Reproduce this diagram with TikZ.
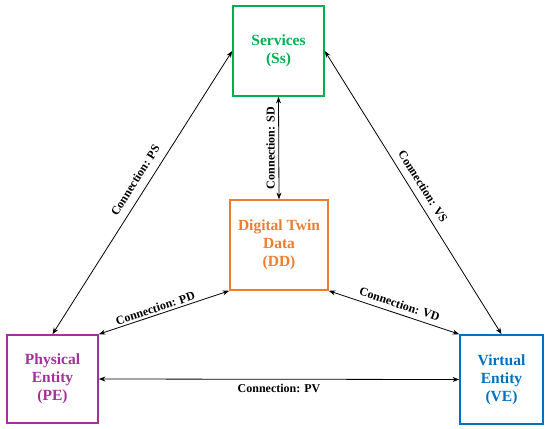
\documentclass[tikz,border=0pt]{standalone}
\usepackage{fontspec}
\setmainfont{Liberation Serif}
\usetikzlibrary{arrows.meta}
\definecolor{svgreen}{RGB}{0,176,80}
\definecolor{ddorange}{RGB}{237,125,49}
\definecolor{pepurple}{RGB}{160,50,155}
\definecolor{veblue}{RGB}{0,112,192}
\begin{document}
\begin{tikzpicture}[x=1pt,y=-1pt,
  entity/.style={draw=#1, text=#1, line width=1.6pt, align=center, inner sep=0pt,
    font=\fontsize{15.5}{18}\selectfont\bfseries},
  link/.style={Stealth-Stealth, line width=0.8pt, black},
  tag/.style={font=\fontsize{12}{14}\selectfont\bfseries, inner sep=2pt}]
\useasboundingbox (0,0) rectangle (545,428);
\node[entity=svgreen, minimum width=91pt, minimum height=90pt] (S) at (278.5,51) {Services\\(Ss)};
\node[entity=ddorange, minimum width=98pt, minimum height=90pt] (D) at (279,245) {Digital Twin\\Data\\(DD)};
\node[entity=pepurple, minimum width=91pt, minimum height=88pt] (P) at (52.5,379) {Physical\\Entity\\(PE)};
\node[entity=veblue, minimum width=83pt, minimum height=89pt] (V) at (501.5,379.5) {Virtual\\Entity\\(VE)};
\draw[link] (P.north) -- node[tag, sloped, above=6pt, pos=0.52] {Connection: PS} (S.west);
\draw[link] (S.east) -- node[tag, sloped, above=5pt, pos=0.5] {Connection: VS} (V.north);
\draw[link] (D.north) -- node[tag, rotate=90, anchor=south, inner sep=3.5pt, pos=0.5] {Connection: SD} (S.south);
\draw[link] (P.north east) -- node[tag, sloped, above, pos=0.45] {Connection: PD} (D.south west);
\draw[link] (D.south east) -- node[tag, sloped, above=3pt, pos=0.52] {Connection: VD} (V.north west);
\draw[link] (P.east) -- node[tag, below=3pt] {Connection: PV} (V.west);
\end{tikzpicture}
\end{document}
